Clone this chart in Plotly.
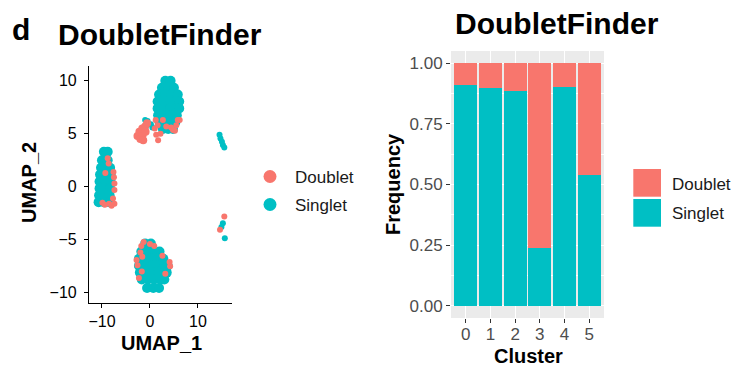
import plotly.graph_objects as go

# The page body adds an 8px margin, so the figure is made 8px smaller and all
# layout pixel positions below are given in window coordinates.
OFF = 8
W, H = 741 - OFF, 368 - OFF
RED = "#F8766D"
CYAN = "#00BFC4"
FONT = "Liberation Sans, Arial, sans-serif"

# ---------------- UMAP data ----------------
singlet_blob_x = [3.2, 4.3,
                  2.5, 3.8, 5.0,
                  1.9, 3.2, 4.5, 5.8,
                  1.6, 2.9, 4.2, 5.5, 6.1,
                  1.6, 2.9, 4.2, 5.5, 6.1,
                  1.7, 3.0, 4.3, 5.6,
                  2.0, 3.2, 4.4, 5.3,
                  2.7, 3.8, 4.8,
                  -9.6, -8.8,
                  -10.0, -8.8,
                  -10.2, -9.0, -8.3,
                  -10.4, -9.2, -8.2,
                  -10.5, -9.4, -8.2,
                  -10.5, -9.5, -8.3,
                  -10.6, -9.6, -8.4,
                  -10.7, -9.6, -8.5,
                  -1.0, 0.2,
                  -1.8, -0.5, 0.8, 2.0,
                  -2.3, -1.0, 0.3, 1.6, 2.8,
                  -2.3, -1.0, 0.3, 1.6, 2.9, 3.7,
                  -2.1, -0.8, 0.5, 1.8, 3.1, 3.5,
                  -1.7, -0.4, 0.9, 2.2, 3.0,
                  -0.6, 0.7, 1.9]
singlet_blob_y = [10.0, 10.0,
                  9.35, 9.35, 9.35,
                  8.7, 8.7, 8.7, 8.7,
                  8.05, 8.05, 8.05, 8.05, 8.05,
                  7.4, 7.4, 7.4, 7.4, 7.4,
                  6.75, 6.75, 6.75, 6.75,
                  6.1, 6.1, 6.1, 6.1,
                  5.45, 5.45, 5.45,
                  3.3, 3.3,
                  2.5, 2.5,
                  1.8, 1.8, 1.8,
                  1.15, 1.15, 1.15,
                  0.5, 0.5, 0.5,
                  -0.15, -0.15, -0.15,
                  -0.8, -0.8, -0.8,
                  -1.45, -1.45, -1.45,
                  -5.35, -5.35,
                  -6.1, -6.1, -6.1, -6.1,
                  -6.8, -6.8, -6.8, -6.8, -6.8,
                  -7.45, -7.45, -7.45, -7.45, -7.45, -7.45,
                  -8.1, -8.1, -8.1, -8.1, -8.1, -8.1,
                  -8.75, -8.75, -8.75, -8.75, -8.75,
                  -9.55, -9.55, -9.55]

singlet_small_x = [-0.5, 0.2, 0.5, -1.0,
                   14.5, 14.7, 15.0, 15.2, 15.5,
                   15.2, 14.9, 15.6]
singlet_small_y = [6.2, 5.9, 5.6, 6.3,
                   4.9, 4.55, 4.25, 3.95, 3.7,
                   -3.45, -3.8, -4.85]

doublet_blob_x = [-2.6, -2.0, -2.2, -1.5, -1.6, -1.0, -0.9, -0.6, -1.4]
doublet_blob_y = [4.8, 4.5, 5.2, 4.9, 5.5, 5.7, 5.2, 6.0, 4.4]

doublet_small_x = [1.0, 1.3, 1.7, 1.6, 2.2, 3.4, 4.4, 5.2, 5.5, 5.8, 2.7, 4.8, 1.2, 6.2,
                   -7.5, -7.4, -7.4, -7.6, -7.7, -7.4, -8.0, -8.5, -9.9, -9.4, -8.8, -8.6, -9.3,
                   -1.8, -1.3, -2.0, -1.6, -2.8, -2.6, -1.7, 0.0, 0.9, 4.1, 4.2, 3.2, 2.6, -2.3,
                   15.5, 14.6]
doublet_small_y = [5.5, 4.9, 4.4, 5.8, 5.0, 5.7, 5.6, 5.3, 5.8, 6.3, 6.3, 5.35, 6.3, 6.3,
                   0.9, 0.3, -0.3, 1.4, -1.1, -1.6, -1.8, -1.6, -1.5, -1.7, 2.7, 2.2, 1.3,
                   -5.6, -5.2, -6.2, -6.6, -6.9, -7.4, -8.0, -5.4, -5.6, -7.1, -7.5, -8.2, -6.5, -8.6,
                   -2.8, -4.05]

umap_x_ticks = [-10, 0, 10]
umap_y_ticks = [-10, -5, 0, 5, 10]

# ---------------- Bar data ----------------
clusters = ["0", "1", "2", "3", "4", "5"]
singlet_freq = [0.908, 0.897, 0.885, 0.239, 0.901, 0.541]
doublet_freq = [0.092, 0.103, 0.115, 0.761, 0.099, 0.459]
freq_ticks = [0, 0.25, 0.5, 0.75, 1.0]
legend_labels = ["Doublet", "Singlet"]

fig = go.Figure()

# UMAP scatter
fig.add_trace(go.Scatter(x=singlet_blob_x, y=singlet_blob_y, mode="markers",
                         marker=dict(color=CYAN, size=10, line=dict(width=0)),
                         xaxis="x", yaxis="y", showlegend=False, hoverinfo="skip"))
fig.add_trace(go.Scatter(x=singlet_small_x, y=singlet_small_y, mode="markers",
                         marker=dict(color=CYAN, size=6, line=dict(width=0)),
                         xaxis="x", yaxis="y", showlegend=False, hoverinfo="skip"))
fig.add_trace(go.Scatter(x=doublet_blob_x, y=doublet_blob_y, mode="markers",
                         marker=dict(color=RED, size=8, line=dict(width=0)),
                         xaxis="x", yaxis="y", showlegend=False, hoverinfo="skip"))
fig.add_trace(go.Scatter(x=doublet_small_x, y=doublet_small_y, mode="markers",
                         marker=dict(color=RED, size=6, line=dict(width=0)),
                         xaxis="x", yaxis="y", showlegend=False, hoverinfo="skip"))

# Stacked bars
fig.add_trace(go.Bar(x=clusters, y=singlet_freq, marker=dict(color=CYAN, line=dict(width=0)),
                     width=0.92, xaxis="x2", yaxis="y2", showlegend=False, name="Singlet"))
fig.add_trace(go.Bar(x=clusters, y=doublet_freq, marker=dict(color=RED, line=dict(width=0)),
                     width=0.92, xaxis="x2", yaxis="y2", showlegend=False, name="Doublet"))

def px(x):
    return (x - OFF) / W

def py(y):
    return 1 - (y - OFF) / H

shapes = [
    dict(type="rect", xref="paper", yref="paper", x0=px(451), x1=px(604), y0=py(318), y1=py(51),
         fillcolor="#EBEBEB", line=dict(width=0), layer="below"),
    # left legend circles
    dict(type="circle", xref="paper", yref="paper", x0=px(263.5), x1=px(276.5), y0=py(183), y1=py(170),
         fillcolor=RED, line=dict(width=0)),
    dict(type="circle", xref="paper", yref="paper", x0=px(263.5), x1=px(276.5), y0=py(211), y1=py(198),
         fillcolor=CYAN, line=dict(width=0)),
    # right legend keys
    dict(type="rect", xref="paper", yref="paper", x0=px(633.3), x1=px(661), y0=py(196.7), y1=py(169),
         fillcolor=RED, line=dict(width=0)),
    dict(type="rect", xref="paper", yref="paper", x0=px(633.3), x1=px(661), y0=py(226.7), y1=py(199),
         fillcolor=CYAN, line=dict(width=0)),
]

def ann(text, x, y, size, bold=False, xanchor="center", yanchor="middle", angle=0, color="#000000"):
    return dict(text=("<b>%s</b>" % text) if bold else text, x=px(x), y=py(y), xref="paper", yref="paper",
                xanchor=xanchor, yanchor=yanchor, showarrow=False, textangle=angle,
                font=dict(family=FONT, size=size, color=color))

annotations = [
    ann("d", 10, 29, 30, bold=True, xanchor="left"),
    ann("DoubletFinder", 56, 35, 30, bold=True, xanchor="left"),
    ann("DoubletFinder", 557, 24, 30, bold=True),
    ann("UMAP_2", 29, 183, 20, bold=True, angle=-90),
    ann("UMAP_1", 161, 343, 20, bold=True),
    ann("Frequency", 393, 184, 20, bold=True, angle=-90),
    ann("Cluster", 528, 356, 20, bold=True),
    ann(legend_labels[0], 293, 177, 17, xanchor="left", color="#1A1A1A"),
    ann(legend_labels[1], 293, 205, 17, xanchor="left", color="#1A1A1A"),
    ann(legend_labels[0], 669.7, 184, 17, xanchor="left", color="#1A1A1A"),
    ann(legend_labels[1], 669.7, 213, 17, xanchor="left", color="#1A1A1A"),
]

fig.update_layout(
    width=W, height=H, autosize=False,
    margin=dict(l=0, r=0, t=0, b=0),
    paper_bgcolor="white", plot_bgcolor="rgba(0,0,0,0)",
    barmode="stack", bargap=0,
    showlegend=False,
    font=dict(family=FONT),
    shapes=shapes, annotations=annotations,
    xaxis=dict(domain=[px(89), px(232)], range=[-12.7, 17.1], anchor="y",
               showgrid=False, zeroline=False, showline=True, linecolor="black", linewidth=1.1,
               ticks="outside", ticklen=4, tickwidth=1.1, tickcolor="black",
               tickvals=umap_x_ticks, tickfont=dict(size=16, color="black", family=FONT)),
    yaxis=dict(domain=[py(302.7), py(66)], range=[-10.94, 11.4], anchor="x",
               showgrid=False, zeroline=False, showline=True, linecolor="black", linewidth=1.1,
               ticks="outside", ticklen=4, tickwidth=1.1, tickcolor="black",
               tickvals=umap_y_ticks, tickfont=dict(size=16, color="black", family=FONT),
               ticklabelstandoff=4),
    xaxis2=dict(domain=[px(451), px(604)], range=[-0.6, 5.6], anchor="y2", type="category",
                categoryorder="array", categoryarray=clusters,
                showgrid=True, gridcolor="white", gridwidth=1.1, zeroline=False, showline=False,
                ticks="outside", ticklen=4, tickwidth=1.1, tickcolor="#333333",
                tickfont=dict(size=17, color="#4D4D4D", family=FONT),
                ticklabelstandoff=-3),
    yaxis2=dict(domain=[py(318), py(51)], range=[-0.05, 1.05], anchor="x2",
                showgrid=True, gridcolor="white", gridwidth=1.1, zeroline=False, showline=False,
                ticks="outside", ticklen=4, tickwidth=1.1, tickcolor="#333333",
                tickvals=freq_ticks, tickformat=".2f",
                tickfont=dict(size=17, color="#4D4D4D", family=FONT),
                minor=dict(tickvals=[0.125, 0.375, 0.625, 0.875], showgrid=True,
                           gridcolor="white", gridwidth=0.55, ticks="")),
)

fig.write_html("out.html")
